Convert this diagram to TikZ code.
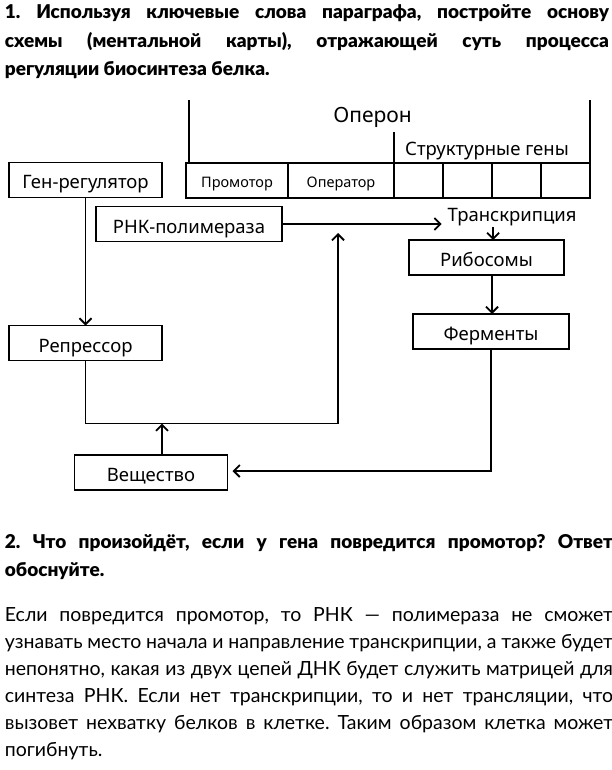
\documentclass[tikz,border=0pt]{standalone}
\usepackage{fontspec}
\setmainfont{Lato}[BoldFont={Lato Black}]
\newfontfamily\boxfont{Noto Sans}
\usetikzlibrary{arrows.meta,positioning}
\frenchspacing

\begin{document}
\begin{tikzpicture}[
  x=1pt, y=-1pt, line width=1.8pt,
  >={Straight Barb[length=6pt,width=12pt,line width=1.8pt]},
  box/.style={draw, inner sep=0pt, outer sep=0pt, minimum height=35pt,
              text height=18pt, text depth=0pt,
              font=\boxfont\fontsize{18.5}{22}\selectfont},
  gene/.style={draw, inner sep=0pt, outer sep=0pt, minimum height=35pt,
               text height=14.4pt, text depth=0pt,
               anchor=west, font=\boxfont\fontsize{14.5}{17}\selectfont},
  lab/.style={inner sep=0pt, font=\boxfont\fontsize{18.5}{22}\selectfont},
  task/.style={anchor=base west, inner sep=0pt, align=justify,
               font=\bfseries\fontsize{19}{28.8}\selectfont},
  answer/.style={anchor=base west, inner sep=0pt, align=justify,
                 text width=608pt, font=\fontsize{19.5}{27}\selectfont}
]
\path[fill=white] (0,0) rectangle (612,770);
\useasboundingbox (0,0) rectangle (612,770);

% question 1
\node[task, text width=604pt] (q1) at (4,18.3)
  {1. Используя ключевые слова параграфа, постройте основу\linebreak
   схемы (ментальной карты), отражающей суть процесса\linebreak
   регуляции биосинтеза белка.};

% operon
\node[gene, minimum width=102pt] (prom) at (186,180.5) {Промотор};
\node[gene, minimum width=106pt, right=0pt of prom] (oper) {Оператор};
\foreach \i/\j in {1/oper,2/s1,3/s2,4/s3}
  \node[gene, minimum width=49pt, right=0pt of \j] (s\i) {};
\draw ([xshift=2.7pt]prom.north west) -- ++(0,-63);
\draw (s1.north west) -- ++(0,-31.3);
\draw (s4.north east) -- ++(0,-63);
\node[lab, font=\boxfont\fontsize{21}{24}\selectfont] (operon) at (372.5,117) {Оперон};
\node[lab] (sgenes) at (487,151.3) {Структурные гены};

% boxes
\node[box, minimum width=153pt] (gen) at (85.5,180) {Ген-регулятор};
\node[box, minimum width=186pt] (rnk) at (189,224) {РНК-полимераза};
\node[lab, anchor=base west] (trans) at (446.7,221.7) {Транскрипция};
\node[box, minimum width=155pt] (rib) at (486.5,257.5) {Рибосомы};
\node[box, minimum width=156pt] (ferm) at (491,331.5) {Ферменты};
\node[box, minimum width=153pt] (rep) at (85.5,343) {Репрессор};
\node[box, minimum width=153pt] (sub) at (151,472.5) {Вещество};
\coordinate (join) at (338,423.5);

% connectors
\draw[->, shorten >=5pt] (rnk.east) -- (rnk.east -| trans.west);
\draw[->] ([xshift=-19pt]trans.south) -- ([xshift=-19pt]trans.south |- rib.north);
\draw[->] ([xshift=5.5pt]rib.south) -- ([xshift=5.5pt]rib.south |- ferm.north);
\draw[->, shorten >=5pt] (ferm.south) |- ([yshift=1.5pt]sub.east);
\draw[->] (gen) -- (rep);
\draw (rep.south) |- (join);
\draw[->] ([xshift=11pt]sub.north) -- ([xshift=11pt]sub.north |- join);
\draw[->, shorten >=9pt] (join) -- (join |- rnk.east);

% question 2 and answer
\node[task, text width=608pt] (q2) at (4,548)
  {2. Что произойдёт, если у гена повредится промотор? Ответ\linebreak
   обоснуйте.};
\node[answer] (ans) at (4,621)
  {Если повредится промотор, то РНК — полимераза не сможет\linebreak
   узнавать место начала и направление транскрипции, а также будет\linebreak
   непонятно, какая из двух цепей ДНК будет служить матрицей для\linebreak
   синтеза РНК. Если нет транскрипции, то и нет трансляции, что\linebreak
   вызовет нехватку белков в клетке. Таким образом клетка может\linebreak
   погибнуть.};
\end{tikzpicture}
\end{document}
